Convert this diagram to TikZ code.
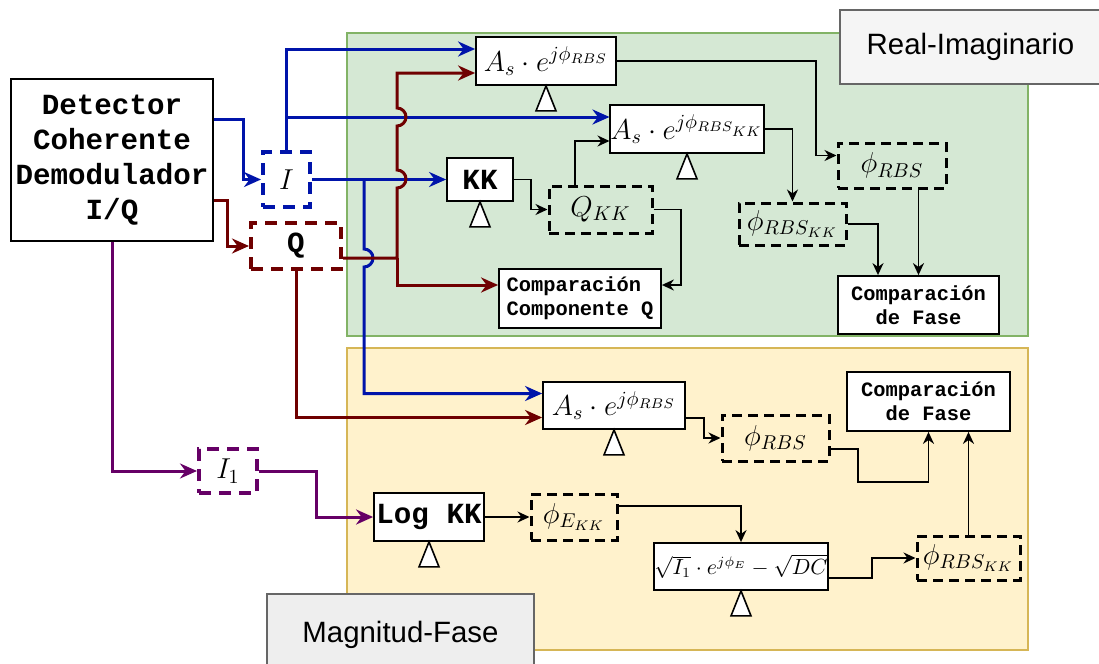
\documentclass[tikz,border=0pt]{standalone}
\usepackage{fontspec}
\setsansfont{Liberation Sans}
\setmonofont{Liberation Mono}
\usetikzlibrary{arrows.meta}
\definecolor{azul}{RGB}{0,20,170}
\definecolor{rojo}{RGB}{111,0,0}
\definecolor{morado}{RGB}{102,0,102}
\definecolor{verde}{HTML}{D5E8D4}
\definecolor{verdeb}{HTML}{82B366}
\definecolor{amarillo}{HTML}{FFF2CC}
\definecolor{amarillob}{HTML}{D6B656}
\definecolor{gris}{HTML}{F5F5F5}
\definecolor{grisc}{HTML}{EEEEEE}
\definecolor{grisb}{HTML}{666666}

\tikzset{
  bloque/.style={draw, fill=white, line width=0.9pt, inner sep=0pt},
  senal/.style={draw, line width=1.5pt, dash pattern=on 5pt off 3pt, inner sep=0pt},
  senalc/.style={draw, line width=2pt, dash pattern=on 6pt off 4pt, inner sep=0pt},
  mate/.style={font=\fontsize{14.5}{17}\selectfont},
  codigo/.style={font=\ttfamily\bfseries\fontsize{14.6}{17.5}\selectfont},
  comp/.style={font=\ttfamily\bfseries\fontsize{10.2}{12}\selectfont},
  etiqueta/.style={draw=grisb, line width=0.8pt, font=\sffamily\fontsize{14.7}{17}\selectfont},
  tri/.pic={\draw[fill=white, line width=0.8pt] (0,0) -- (-10,25) -- (10,25) -- cycle;}
}

\begin{document}
\begin{tikzpicture}[x=0.5pt, y=-0.5pt, >={Stealth[length=6pt,width=5.5pt]},
    flechab/.style={->, line width=0.9pt},
    flechac/.style={-{Stealth[length=8.5pt,width=7.5pt]}, line width=1.5pt}]
    \useasboundingbox (0,0) rectangle (1099,664);
    \clip (0,0) rectangle (1099,664);

    % Regiones
    \draw[verdeb, fill=verde, line width=0.8pt] (347,33) rectangle (1028,336);
    \draw[amarillob, fill=amarillo, line width=0.8pt] (347,348) rectangle (1028,650);
    \node[etiqueta, fill=gris, minimum width=130.5pt, minimum height=37pt] (RI) at (970.5,47) {Real-Imaginario};
    \node[etiqueta, fill=grisc, minimum width=133.5pt, minimum height=40.5pt] (MF) at (400.5,634.5) {Magnitud-Fase};

    % Entrada
    \node[bloque, codigo, align=center, minimum width=101pt, minimum height=81pt] (Det) at (112,160)
        {Detector\\Coherente\\Demodulador\\I/Q};
    \node[senalc, draw=azul, mate, minimum width=23.5pt, minimum height=27.5pt] (I) at (286.5,179.5) {$I$};
    \node[senalc, draw=rojo, codigo, minimum width=45pt, minimum height=23pt] (Q) at (296,246) {Q};
    \node[senalc, draw=morado, mate, minimum width=29pt, minimum height=22pt] (I1) at (228,471) {$I_1$};

    % Real-Imaginario
    \node[bloque, mate, minimum width=70pt, minimum height=24pt] (A1) at (546,61) {$A_s\cdot e^{j\phi_{RBS}}$};
    \node[bloque, mate, minimum width=74pt, minimum height=24pt] (A2) at (687,129) {$A_s\cdot e^{j\phi_{RBS_{KK}}}$};
    \node[bloque, codigo, minimum width=33pt, minimum height=21.5pt] (KK) at (480,179.5) {KK};
    \node[senal, mate, minimum width=51.5pt, minimum height=23.5pt] (QKK) at (600.5,209.5) {$Q_{KK}$};
    \node[bloque, comp, align=left, minimum width=81pt, minimum height=29.5pt] (CCQ) at (580,298.5)
        {Comparación\\Componente Q};
    \node[senal, mate, minimum width=54pt, minimum height=22.5pt] (phiR) at (892,165.5) {$\phi_{RBS}$};
    \node[senal, mate, minimum width=53.5pt, minimum height=21pt] (phiRK) at (792.5,224) {$\phi_{RBS_{KK}}$};
    \node[bloque, comp, align=center, minimum width=80.5pt, minimum height=29pt] (CF1) at (918.5,305)
        {Comparación\\de Fase};

    % Magnitud-Fase
    \node[bloque, mate, minimum width=71pt, minimum height=23.5pt] (A3) at (614,405.5) {$A_s\cdot e^{j\phi_{RBS}}$};
    \node[senal, mate, minimum width=53.5pt, minimum height=23pt] (phiR3) at (775.5,438) {$\phi_{RBS}$};
    \node[bloque, comp, align=center, minimum width=81.5pt, minimum height=29.5pt] (CF2) at (928.5,401.5)
        {Comparación\\de Fase};
    \node[bloque, codigo, minimum width=55pt, minimum height=24pt] (LogKK) at (429,517) {Log KK};
    \node[senal, mate, minimum width=43pt, minimum height=23pt] (phiE) at (574,517) {$\phi_{E_{KK}}$};
    \node[bloque, font=\fontsize{10.5}{13}\selectfont, minimum width=87pt, minimum height=23.5pt] (Sq) at (741,566.5)
        {$\sqrt{I_1}\cdot e^{j\phi_E}-\sqrt{DC}$};
    \node[senal, mate, minimum width=51.5pt, minimum height=22pt] (phiRK3) at (968.5,558) {$\phi_{RBS_{KK}}$};

    % Triangulos
    \foreach \b in {A1,A2,KK,A3,LogKK,Sq}
        \pic at (\b.south) {tri};

    % Puntos de union
    \coordinate (bA) at (286.5,117);
    \coordinate (bI) at (364,179.5);
    \coordinate (rQ) at (397,258);

    % Conexiones de color
    \draw[flechac, azul] ([yshift=20.5pt]Det.east) -- (243,119) |- (I.west);
    \draw[flechac, rojo] ([yshift=-20pt]Det.east) -- (227,200) |- (Q.west);
    \draw[flechac, morado] (Det.south) |- (I1.west);
    \draw[flechac, morado] (I1.east) -- (316,471) |- (LogKK.west);
    \draw[flechac, azul] (I.north) |- ([yshift=6pt]A1.west);
    \draw[flechac, azul] (bA) -- ([yshift=6pt]A2.west);
    \draw[flechac, azul] (I.east) -- (KK.west);
    \draw[flechac, azul] (bI) -- (364,249) arc[start angle=90, end angle=-90, radius=4.5pt]
        |- ([yshift=6pt]A3.west);
    \draw[flechac, rojo] ([yshift=-6pt]Q.east) -- (rQ) -- (397,188)
        arc[start angle=-90, end angle=90, radius=4.5pt] -- (397,126)
        arc[start angle=-90, end angle=90, radius=4.5pt] |- ([yshift=-6pt]A1.west);
    \draw[flechac, rojo] (rQ) |- ([yshift=6.75pt]CCQ.west);
    \draw[flechac, rojo] (Q.south) |- ([yshift=-6pt]A3.west);

    % Conexiones negras
    \draw[flechab] (A1.east) -- (816,61) |- ([yshift=5pt]phiR.west);
    \draw[flechab] (A2.east) -| (phiRK.north);
    \draw[flechab] (KK.east) -- (531,179.5) |- (QKK.west);
    \draw[flechab] ([xshift=-12.75pt]QKK.north) |- ([yshift=-6pt]A2.west);
    \draw[flechab] (QKK.east) -- (681,209.5) |- ([yshift=6.75pt]CCQ.east);
    \draw[flechab] (phiRK.east) -| ([xshift=-20.25pt]CF1.north);
    \draw[flechab] (CF1.north |- phiR.south) -- (CF1.north);
    \draw[flechab] ([yshift=-6.25pt]A3.east) -- (704,418) |- (phiR3.west);
    \draw[flechab] ([yshift=-5.5pt]phiR3.east) -- (858,449) -- (858,482) -| (CF2.south);
    \draw[flechab] (phiRK3.north) -- (phiRK3.north |- CF2.south);
    \draw[flechab] (LogKK.east) -- (phiE.west);
    \draw[flechab] ([yshift=5.5pt]phiE.east) -| (Sq.north);
    \draw[flechab] ([yshift=-5.75pt]Sq.east) -- (872,578) |- (phiRK3.west);
\end{tikzpicture}
\end{document}
